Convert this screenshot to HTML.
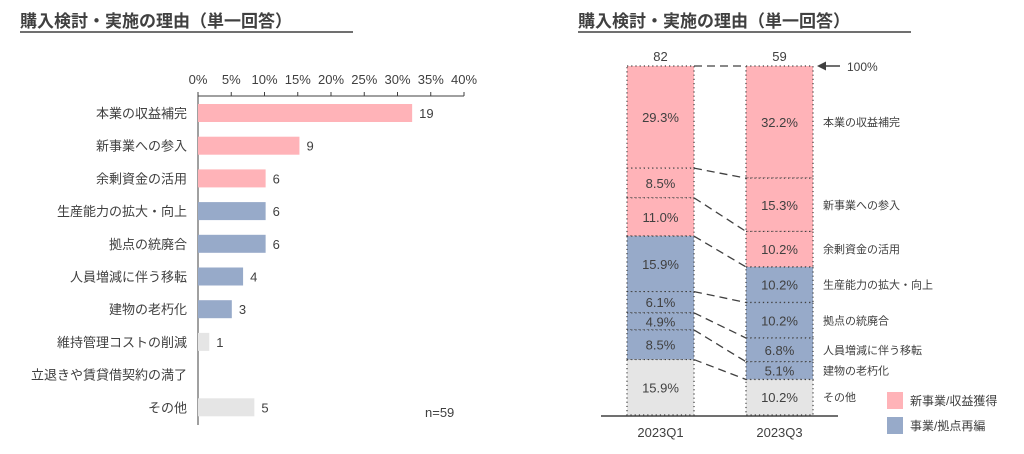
<!DOCTYPE html>
<html><head><meta charset="utf-8"><style>
body{margin:0;background:#fff;width:1024px;height:449px;overflow:hidden;font-family:"Liberation Sans","Noto Sans CJK JP",sans-serif;}
svg text{font-family:"Liberation Sans","Noto Sans CJK JP",sans-serif;fill:#404040;}
</style></head><body>
<svg width="1024" height="449">
<g id="left"></g><g id="right"></g>
</svg>
<script>
const leftCats=["本業の収益補完","新事業への参入","余剰資金の活用","生産能力の拡大・向上","拠点の統廃合","人員増減に伴う移転","建物の老朽化","維持管理コストの削減","立退きや賃貸借契約の満了","その他"];
const leftCounts=[19,9,6,6,6,4,3,1,0,5];
const leftGroups=["p","p","p","b","b","b","b","g","g","g"];
const leftN=59;
const leftTicks=["0%","5%","10%","15%","20%","25%","30%","35%","40%"];
const periods=["2023Q1","2023Q3"];
const periodN=[82,59];
const segCats=["本業の収益補完","新事業への参入","余剰資金の活用","生産能力の拡大・向上","拠点の統廃合","人員増減に伴う移転","建物の老朽化","その他"];
const segGroups=["p","p","p","b","b","b","b","g"];
const q1Vals=[29.3,8.5,11.0,15.9,6.1,4.9,8.5,15.9];
const q3Vals=[32.2,15.3,10.2,10.2,10.2,6.8,5.1,10.2];
const legendLabels=["新事業/収益獲得","事業/拠点再編"];
const COL={p:"#ffb3b8",b:"#97aac9",g:"#e5e5e5"};
const NS="http://www.w3.org/2000/svg";
function mk(p,t,a,txt){const e=document.createElementNS(NS,t);for(const k in a)e.setAttribute(k,a[k]);if(txt!==undefined)e.textContent=txt;p.appendChild(e);return e;}
const svgEl=document.querySelector('svg');
[[20,"left-title"],[578,"right-title"]].forEach(([x,n])=>{
 const t=mk(svgEl,'text',{x:x,y:27,'font-size':17,'font-weight':'bold',fill:'#404040'},"購入検討・実施の理由（単一回答）");
 
 
 const l=mk(svgEl,'line',{x1:x,y1:32,x2:x+333,y2:32,stroke:'#404040','stroke-width':1.5});
 
 
});
const LG=document.getElementById('left');
const x0=198,pxPer=266/40;
const xS=v=>x0+v*pxPer;
const axisTop=96,rowH=32.7,yFirst=113;
const yS=i=>yFirst+i*rowH;
const xa=mk(LG,'line',{x1:x0,y1:axisTop,x2:xS(40),y2:axisTop,stroke:'#404040'});


const ya=mk(LG,'line',{x1:x0,y1:axisTop,x2:x0,y2:425,stroke:'#404040'});


leftTicks.forEach((t,i)=>{const x=xS(i*5);
 const tk=mk(LG,'line',{x1:x,y1:axisTop-4,x2:x,y2:axisTop,stroke:'#404040'});
 
 
 const tx=mk(LG,'text',{x:x,y:84,'font-size':13,'text-anchor':'middle'},t);
 
 
});
leftCats.forEach((c,i)=>{const y=yS(i);
 const lb=mk(LG,'text',{x:187,y:y+5,'font-size':13,'text-anchor':'end'},c);
 
 
 const v=leftCounts[i];
 if(v>0){const pct=v/leftN*100;
  const r=mk(LG,'rect',{x:x0,y:y-9,width:xS(pct)-x0,height:18,fill:COL[leftGroups[i]]});
  
  
  const vt=mk(LG,'text',{x:xS(pct)+7,y:y+5,'font-size':13},String(v));
  
  }
});
const nt=mk(LG,'text',{x:425,y:417,'font-size':13},"n="+leftN);


const RG=document.getElementById('right');
const barX=[627,746],barW=67,barTop=66,barBot=415;
const series=[q1Vals,q3Vals];
const bounds=series.map(vals=>{const s=vals.reduce((a,b)=>a+b,0);let acc=0;return vals.map(v=>{const y0=barTop+acc/s*(barBot-barTop);acc+=v;return [y0,barTop+acc/s*(barBot-barTop)];});});
series.forEach((vals,si)=>{const bx=barX[si];
 vals.forEach((v,i)=>{const [y0,y1]=bounds[si][i];
  const r=mk(RG,'rect',{x:bx,y:y0,width:barW,height:y1-y0,fill:COL[segGroups[i]],stroke:'#404040','stroke-width':1.2,'stroke-dasharray':'1.2 3'});
  
  
  const t=mk(RG,'text',{x:bx+barW/2,y:(y0+y1)/2+5,'font-size':13,'text-anchor':'middle'},v.toFixed(1)+"%");
  
  
 });
 const n=mk(RG,'text',{x:bx+barW/2,y:61,'font-size':13,'text-anchor':'middle'},String(periodN[si]));
 
 
 const p=mk(RG,'text',{x:bx+barW/2,y:437,'font-size':13,'text-anchor':'middle'},periods[si]);
 
 
});
for(let i=0;i<segCats.length;i++){
 const a=bounds[0][i][0], b=bounds[1][i][0];
 const l=mk(RG,'line',{x1:barX[0]+barW,y1:a,x2:barX[1],y2:b,stroke:'#404040','stroke-width':1.3,'stroke-dasharray':'8 5'});
 
 
}
const bl=mk(RG,'line',{x1:601,y1:416,x2:838,y2:416,stroke:'#404040','stroke-width':1.5});


segCats.forEach((c,i)=>{const [y0,y1]=bounds[1][i];
 const t=mk(RG,'text',{x:823,y:(y0+y1)/2+4,'font-size':11},c);
 
 
});
const al=mk(RG,'line',{x1:822,y1:66,x2:840,y2:66,stroke:'#404040','stroke-width':1.5});


const ah=mk(RG,'path',{d:'M817 66 L826 61.5 L826 70.5 Z',fill:'#404040'});


const ht=mk(RG,'text',{x:847,y:71,'font-size':12},"100%");


legendLabels.forEach((l,i)=>{const y=392+i*25;
 const r=mk(RG,'rect',{x:887,y:y,width:16,height:17,fill:i?COL.b:COL.p});
 
 
 const t=mk(RG,'text',{x:910,y:y+13,'font-size':12},l);
 
 
});
</script>
</body></html>
